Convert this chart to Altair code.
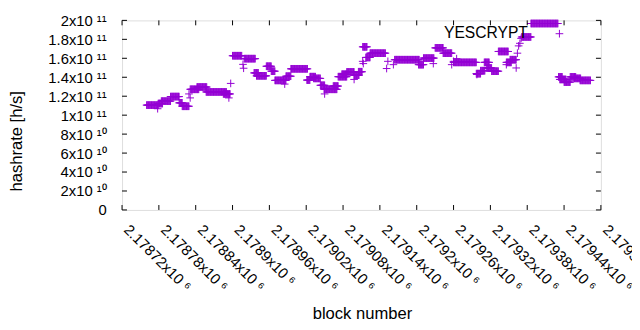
import altair as alt
import pandas as pd

series_name = "YESCRYPT"

# runs of consecutive blocks sharing (about) the same hashrate, value in 1e9 h/s
run_start = [2178760, 2178779, 2178784, 2178799, 2178813, 2178818, 2178831, 2178842,
             2178857, 2178885, 2178900, 2178919, 2178935, 2178939, 2178955, 2178963,
             2178969, 2178987, 2178995, 2179021, 2179026, 2179032, 2179043, 2179049,
             2179064, 2179072, 2179078, 2179086, 2179098, 2179105, 2179112, 2179117,
             2179124, 2179164, 2179203, 2179211, 2179230, 2179243, 2179260, 2179297,
             2179304, 2179310, 2179314, 2179322, 2179333, 2179346, 2179352, 2179371,
             2179386, 2179431, 2179433, 2179440, 2179450, 2179456, 2179466]
run_end = [2178779, 2178786, 2178799, 2178813, 2178818, 2178829, 2178845, 2178858,
           2178890, 2178896, 2178915, 2178937, 2178942, 2178955, 2178963, 2178969,
           2178987, 2178995, 2179022, 2179026, 2179035, 2179043, 2179050, 2179070,
           2179072, 2179086, 2179086, 2179098, 2179106, 2179111, 2179119, 2179124,
           2179149, 2179204, 2179211, 2179228, 2179243, 2179257, 2179297, 2179304,
           2179311, 2179318, 2179322, 2179333, 2179349, 2179354, 2179362, 2179386,
           2179430, 2179437, 2179443, 2179450, 2179459, 2179467, 2179483]
run_value = [110.6, 112.3, 114.8, 119.6, 113.0, 109.4, 127.3, 129.7,
             124.5, 122.4, 162.7, 159.6, 144.6, 141.5, 151.6, 146.4,
             136.7, 141.1, 148.9, 137.0, 140.6, 138.8, 131.5, 127.3,
             130.7, 140.6, 143.2, 145.6, 142.2, 145.8, 172.1, 160.9,
             165.4, 158.5, 153.3, 160.2, 171.0, 165.4, 155.7, 143.8,
             146.9, 155.7, 149.8, 146.4, 167.2, 155.7, 158.5, 182.5,
             196.7, 140.4, 137.7, 134.9, 140.4, 138.8, 136.7]

# isolated blocks
pt_block = [2178778, 2178829, 2178831, 2178894, 2178897, 2178917, 2178918, 2178985,
            2179050, 2179098, 2179112, 2179113, 2179151, 2179153, 2179162, 2179227,
            2179257, 2179260, 2179265, 2179298, 2179346, 2179362, 2179364, 2179366,
            2179368, 2179370]
pt_value = [106.8, 122.4, 118.2, 118.2, 133.5, 153.6, 149.5, 132.8,
            122.4, 137.7, 156.8, 154.4, 149.2, 156.8, 153.3, 154.4,
            153.3, 156.8, 159.6, 142.9, 153.3, 149.8, 165.4, 173.1,
            175.8, 181.0]

x_tick_values = [2178720, 2178780, 2178840, 2178900, 2178960, 2179020, 2179080,
                 2179140, 2179200, 2179260, 2179320, 2179380, 2179440, 2179500]
x_tick_labels = ["2.17872x10 ⁶", "2.17878x10 ⁶", "2.17884x10 ⁶", "2.1789x10 ⁶",
                 "2.17896x10 ⁶", "2.17902x10 ⁶", "2.17908x10 ⁶", "2.17914x10 ⁶",
                 "2.1792x10 ⁶", "2.17926x10 ⁶", "2.17932x10 ⁶", "2.17938x10 ⁶",
                 "2.17944x10 ⁶", "2.1795x10 ⁶"]
y_tick_values = [0, 2e10, 4e10, 6e10, 8e10, 1e11, 1.2e11, 1.4e11, 1.6e11, 1.8e11, 2e11]
y_tick_labels = ["0", "2x10 ¹⁰", "4x10 ¹⁰", "6x10 ¹⁰", "8x10 ¹⁰", "1x10 ¹¹",
                 "1.2x10 ¹¹", "1.4x10 ¹¹", "1.6x10 ¹¹", "1.8x10 ¹¹", "2x10 ¹¹"]

rows = []
for s, e, v in zip(run_start, run_end, run_value):
    for b in range(s, e + 1):
        rows.append({"block": b, "hashrate": v * 1e9})
for b, v in zip(pt_block, pt_value):
    rows.append({"block": b, "hashrate": v * 1e9})
df = pd.DataFrame(rows)


def label_expr(values, labels):
    vals = ",".join(str(int(v)) for v in values)
    labs = ",".join("'" + l + "'" for l in labels)
    return f"[{labs}][indexof([{vals}], datum.value)]"


FONT = "Liberation Sans"
FS = 15
TFS = 16.8
W, H = 485, 192
COLOR = "#9400D3"
CROSS = "M-1,0L1,0M0,-1L0,1"

xs = alt.Scale(domain=[2178720, 2179500], nice=False, zero=False)
ys = alt.Scale(domain=[0, 2e11], nice=False, zero=False)

x_axis = alt.Axis(
    values=x_tick_values, labelExpr=label_expr(x_tick_values, x_tick_labels),
    labelAngle=45, labelAlign="left", labelBaseline="top", labelPadding=12,
    labelOffset=9,
    tickSize=0, ticks=False, domain=False, grid=False, labelOverlap=False, labelFlush=False,
    labelFont=FONT, labelFontSize=FS, labelColor="black",
    title="block number", titleFont=FONT, titleFontSize=TFS, titleFontWeight="normal",
    titleColor="black", titleX=243, titleY=110, titleBaseline="alphabetic",
    titleAnchor="middle")
y_axis = alt.Axis(
    values=y_tick_values, labelExpr=label_expr(y_tick_values, y_tick_labels),
    labelPadding=16, tickSize=0, ticks=False, domain=False, grid=False, labelOverlap=False,
    labelFlush=False, labelFont=FONT, labelFontSize=FS, labelColor="black",
    title="hashrate [h/s]", titleFont=FONT, titleFontSize=TFS, titleFontWeight="normal",
    titleColor="black", titleX=-107, titleY=122, titleAngle=-90,
    titleBaseline="middle", titleAlign="center")

points = alt.Chart(df).mark_point(
    shape=CROSS, size=60, filled=False, strokeWidth=1, color=COLOR, opacity=1
).encode(
    x=alt.X("block:Q", scale=xs, axis=x_axis, title="block number"),
    y=alt.Y("hashrate:Q", scale=ys, axis=y_axis, title="hashrate [h/s]"),
)

xt = pd.DataFrame({"block": x_tick_values})
yt = pd.DataFrame({"hashrate": y_tick_values})
tick_style = dict(color="black", strokeWidth=1)
xb = alt.Chart(xt).mark_rule(**tick_style).encode(
    x=alt.X("block:Q", scale=xs, axis=x_axis, title="block number"),
    y=alt.value(H), y2=alt.value(H - 5))
xtop = alt.Chart(xt).mark_rule(**tick_style).encode(
    x=alt.X("block:Q", scale=xs, axis=x_axis, title="block number"),
    y=alt.value(0), y2=alt.value(5))
yl = alt.Chart(yt).mark_rule(**tick_style).encode(
    y=alt.Y("hashrate:Q", scale=ys, axis=y_axis, title="hashrate [h/s]"),
    x=alt.value(0), x2=alt.value(5))
yr = alt.Chart(yt).mark_rule(**tick_style).encode(
    y=alt.Y("hashrate:Q", scale=ys, axis=y_axis, title="hashrate [h/s]"),
    x=alt.value(W), x2=alt.value(W - 5))

key_df = pd.DataFrame({"name": [series_name]})
key_text = alt.Chart(key_df).mark_text(
    align="right", baseline="middle", font=FONT, fontSize=15.8, color="black"
).encode(text="name:N", x=alt.value(411), y=alt.value(12.5))
key_sample = alt.Chart(key_df).mark_point(
    shape=CROSS, size=60, filled=False, strokeWidth=1, color=COLOR, opacity=1
).encode(x=alt.value(443), y=alt.value(13.5))

chart = alt.layer(points, xb, xtop, yl, yr, key_text, key_sample).properties(
    width=W, height=H,
    autosize=alt.AutoSizeParams(type="none"),
    padding={"left": 115.5, "top": 10.5, "right": 31.5, "bottom": 116},
).configure_view(stroke="black", strokeWidth=1).configure(background="white")

chart.save("out.html", embed_options={"renderer": "svg", "actions": False})
